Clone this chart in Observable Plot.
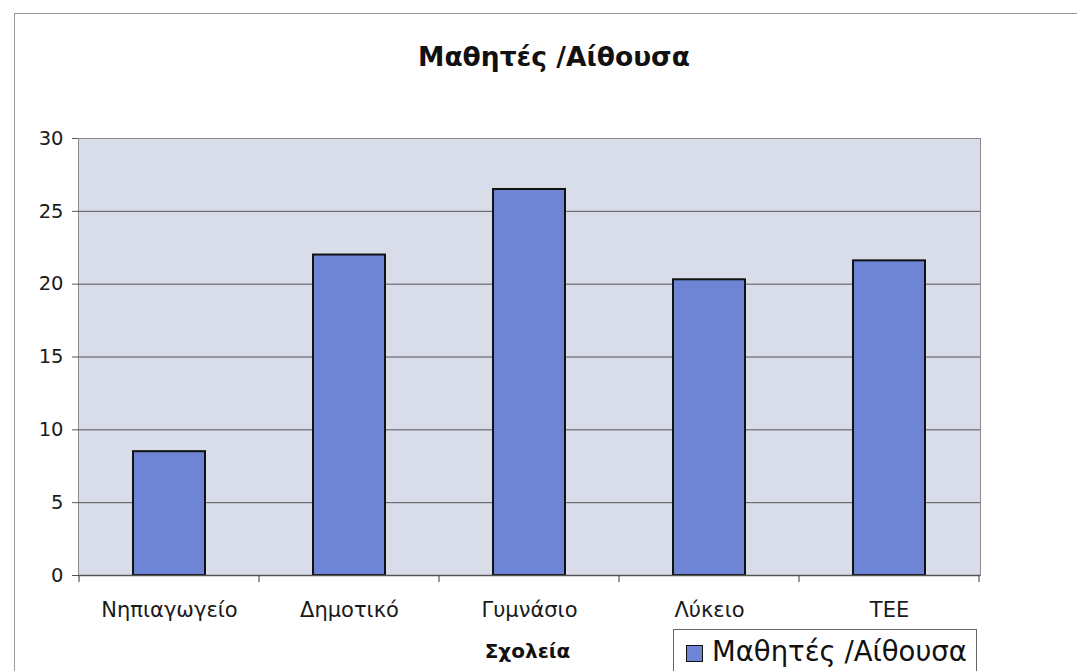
<!DOCTYPE html>
<html>
<head>
<meta charset="utf-8">
<script src="https://cdn.jsdelivr.net/npm/d3@7"></script>
<script src="https://cdn.jsdelivr.net/npm/@observablehq/plot@0.6"></script>
<style>
  html, body { margin: 0; padding: 0; background: #fff; }
  #page { position: relative; width: 1077px; height: 671px; overflow: hidden; font-family: "DejaVu Sans", Verdana, sans-serif; }
  #frame { position: absolute; left: 14px; top: 13px; width: 1100px; height: 700px; border: 1px solid #9a9a9a; box-sizing: border-box; }
  #title { position: absolute; left: 304px; width: 500px; top: 41px; text-align: center; font-weight: bold; font-size: 26.5px; color: #111; }
  #chart { position: absolute; left: 0; top: 120px; }
  #legend { position: absolute; left: 673px; top: 629px; width: 304px; height: 60px; border: 1px solid #666; box-sizing: border-box; background: #fff; font-size: 27.5px; color: #111; }
  #legend .sw { position: absolute; left: 12px; top: 15px; width: 15px; height: 15px; border: 1.5px solid #111; background: #6e85d6; }
  #legend .lb { position: absolute; left: 38px; top: 5px; white-space: nowrap; }
</style>
</head>
<body>
<div id="page">
  <div id="frame"></div>
  <div id="title">Μαθητές /Αίθουσα</div>
  <div id="chart"></div>
  <div id="legend"><div class="sw"></div><div class="lb">Μαθητές /Αίθουσα</div></div>
</div>
<script>
const categories = ["Νηπιαγωγείο", "Δημοτικό", "Γυμνάσιο", "Λύκειο", "ΤΕΕ"];
const values = [8.5, 22.0, 26.5, 20.3, 21.6];
const yTicks = [0, 5, 10, 15, 20, 25, 30];
const seriesName = "Μαθητές /Αίθουσα";
const xTitle = "Σχολεία";

const data = categories.map((c, i) => ({school: c, value: values[i]}));

const chart = Plot.plot({
  width: 1077,
  height: 551,
  marginTop: 18,
  marginBottom: 96,
  marginLeft: 78,
  marginRight: 97,
  style: {fontFamily: "'DejaVu Sans', Verdana, sans-serif", fontSize: "19px", color: "#222", background: "transparent"},
  x: {domain: categories, paddingInner: 0.6, paddingOuter: 0.3, label: null},
  y: {domain: [0, 30], ticks: yTicks, label: null},
  marks: [
    Plot.frame({fill: "#d9dce9", stroke: "#8a8a8a"}),
    Plot.gridY(yTicks.filter(t => t > 0 && t < 30), {stroke: "#555", strokeOpacity: 1, strokeWidth: 1}),
    Plot.barY(data, {x: "school", y: "value", fill: "#6e85d6", stroke: "#111", strokeWidth: 2}),
    Plot.ruleY([0], {stroke: "#555", strokeWidth: 1.5}),
    Plot.ruleX([0], {frameAnchor: "left", stroke: "#555"}),
    Plot.axisY({ticks: yTicks, tickSize: 6, tickPadding: 9, stroke: "#555", fontSize: 19.5, fill: "#1a1a1a"}),
    Plot.axisX({tickSize: 0, tickPadding: 27, fontSize: 21, fill: "#1a1a1a"}),
    Plot.text([xTitle], {frameAnchor: "bottom", dy: 82, dx: -2, fontWeight: "bold", fontSize: 20, fill: "#111"})
  ]
});
document.getElementById("chart").appendChild(chart);

// boundary ticks between categories, derived from the band scale
const xs = chart.scale("x");
const ys = chart.scale("y");
const y0 = ys.apply(0);
const bounds = categories.map(c => xs.apply(c) - xs.step * xs.paddingInner / 2);
bounds.push(xs.apply(categories[categories.length - 1]) + xs.bandwidth + xs.step * xs.paddingInner / 2);
d3.select(chart).append("g")
  .selectAll("line").data(bounds).join("line")
  .attr("x1", d => d).attr("x2", d => d)
  .attr("y1", y0).attr("y2", y0 + 7)
  .attr("stroke", "#555").attr("stroke-width", 1.2);
</script>
</body>
</html>
